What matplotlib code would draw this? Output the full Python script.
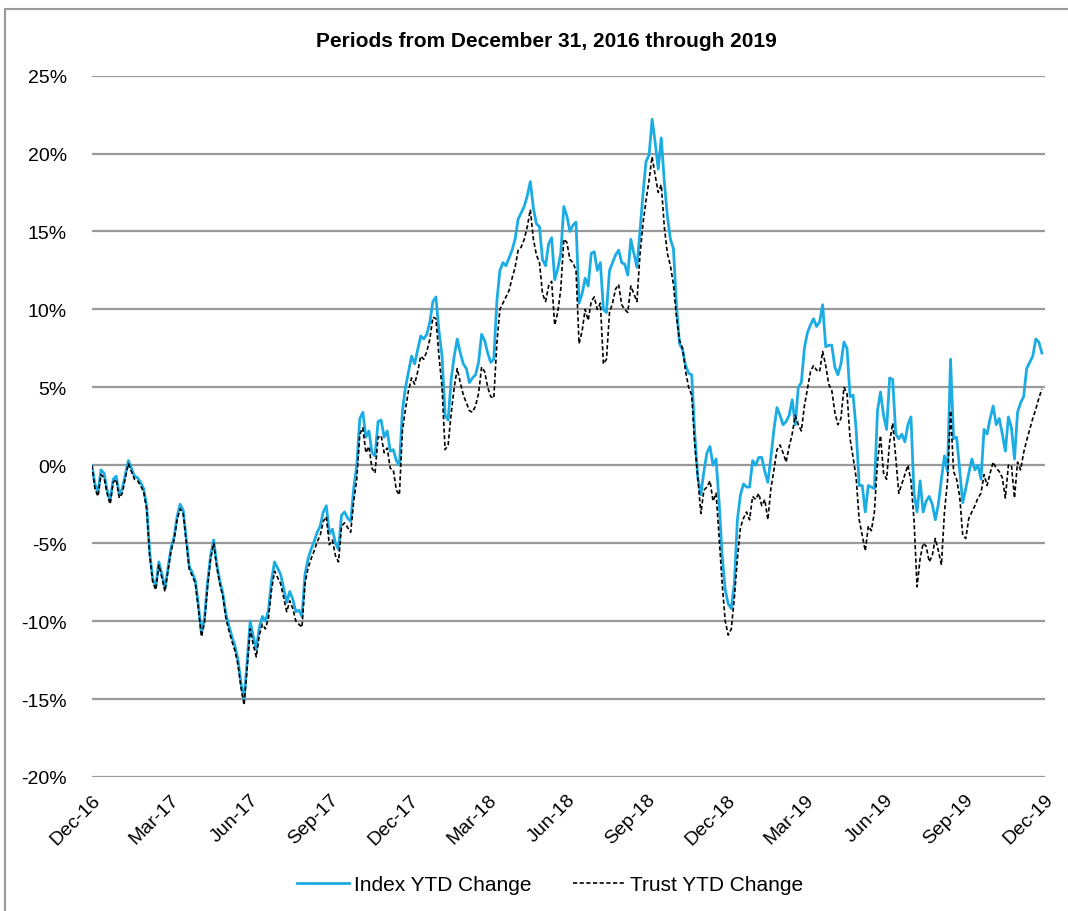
import matplotlib
matplotlib.use("Agg")
import matplotlib.pyplot as plt
import matplotlib.dates as mdates
from matplotlib.patches import Rectangle
import pandas as pd

plt.rcParams['font.family'] = ['Liberation Sans', 'DejaVu Sans']

# twice-weekly observations from Dec 31 2016 (YTD change, %)
dates = pd.date_range('2016-12-31', periods=313, freq='84h')

index_ytd = [
    0.0, -1.2, -1.8, -0.3, -0.5, -1.6, -2.3, -0.9, -0.7, -1.9,
    -1.5, -0.6, 0.3, -0.2, -0.7, -0.8, -1.1, -1.5, -2.6, -5.6,
    -7.3, -7.8, -6.2, -7.0, -7.9, -6.6, -5.3, -4.6, -3.3, -2.5,
    -2.9, -4.7, -6.5, -6.9, -7.4, -9.0, -10.8, -9.8, -7.5, -5.8,
    -4.8, -6.3, -7.4, -8.2, -9.5, -10.3, -11.0, -11.6, -12.5, -14.0,
    -15.0, -12.6, -10.0, -11.0, -11.8, -10.4, -9.7, -10.0, -9.3, -7.4,
    -6.2, -6.6, -7.0, -7.9, -8.8, -8.1, -8.6, -9.4, -9.3, -9.7,
    -7.0, -6.0, -5.4, -4.9, -4.3, -3.9, -3.0, -2.6, -4.4, -4.1,
    -5.0, -5.4, -3.2, -3.0, -3.4, -3.6, -1.5, 0.0, 3.0, 3.4,
    1.8, 2.2, 0.8, 0.6, 2.8, 2.9, 1.8, 2.2, 0.9, 1.0,
    0.3, 0.0, 3.5, 5.0, 6.0, 7.0, 6.5, 7.4, 8.3, 8.1,
    8.4, 9.2, 10.5, 10.8, 8.6, 7.0, 3.2, 2.9, 5.5, 7.0,
    8.1, 7.2, 6.5, 6.2, 5.3, 5.6, 5.8, 6.6, 8.4, 8.0,
    7.2, 6.6, 6.8, 10.5, 12.5, 13.0, 12.8, 13.3, 13.8, 14.5,
    15.8, 16.2, 16.6, 17.3, 18.2, 16.5, 15.5, 15.3, 13.2, 12.8,
    14.2, 14.6, 11.9, 12.6, 13.6, 16.6, 16.0, 15.0, 15.4, 15.6,
    10.4, 11.0, 12.0, 11.5, 13.6, 13.7, 12.5, 13.0, 10.0, 9.8,
    12.5, 13.0, 13.5, 13.8, 13.0, 12.9, 12.2, 14.5, 13.6, 12.7,
    15.0, 17.4, 19.5, 19.9, 22.2, 20.7, 19.0, 21.0, 18.2, 16.0,
    14.5, 13.9, 10.2, 7.8, 7.4, 6.4, 5.9, 5.8, 2.0, -0.8,
    -1.9, -0.4, 0.8, 1.2, 0.0, 0.4, -2.4, -5.8, -8.0, -8.9,
    -9.2, -7.6, -3.5, -1.9, -1.2, -1.4, -1.4, 0.3, 0.0, 0.5,
    0.5, -0.4, -1.1, 0.5, 2.3, 3.7, 3.2, 2.6, 2.8, 3.2,
    4.2, 2.6, 5.0, 5.3, 7.5, 8.5, 9.0, 9.4, 8.9, 9.2,
    10.3, 7.6, 7.7, 7.7, 6.3, 5.8, 6.5, 7.9, 7.5, 4.4,
    4.5, 2.3, -1.3, -1.3, -3.0, -1.3, -1.4, -1.5, 3.5, 4.7,
    3.2, 2.3, 5.6, 5.5, 2.0, 1.7, 2.0, 1.5, 2.6, 3.1,
    -1.8, -3.0, -1.0, -3.0, -2.3, -2.0, -2.5, -3.5, -2.5, -0.9,
    0.6, -0.4, 6.8, 1.7, 1.8, -0.3, -2.4, -1.5, -0.5, 0.4,
    -0.3, 0.0, -0.9, 2.3, 2.0, 3.0, 3.8, 2.6, 3.0, 2.0,
    0.9, 3.1, 2.4, 0.4, 3.4, 4.0, 4.4, 6.2, 6.6, 7.0,
    8.1, 7.9, 7.2,
]

trust_ytd = [
    0.0, -1.5, -2.0, -0.6, -0.8, -1.8, -2.5, -1.1, -0.9, -2.1,
    -1.8, -0.8, 0.1, -0.4, -0.9, -1.0, -1.3, -1.7, -2.8, -5.8,
    -7.5, -8.0, -6.4, -7.2, -8.1, -6.8, -5.5, -4.8, -3.5, -2.8,
    -3.1, -4.9, -6.7, -7.1, -7.6, -9.2, -11.0, -10.1, -7.8, -6.0,
    -5.0, -6.5, -7.6, -8.4, -9.8, -10.6, -11.3, -11.9, -12.8, -14.3,
    -15.4, -13.0, -10.5, -11.5, -12.3, -10.9, -10.2, -10.5, -9.8, -8.0,
    -6.8, -7.2, -7.6, -8.5, -9.4, -8.7, -9.2, -10.0, -10.2, -10.4,
    -7.6, -6.6, -6.0, -5.5, -4.9, -4.5, -3.6, -3.3, -5.1, -4.8,
    -5.8, -6.2, -3.9, -3.7, -4.0, -4.3, -2.3, -0.9, 2.0, 2.4,
    0.8, 1.2, -0.2, -0.5, 1.8, 1.9, 0.8, 1.1, -0.2, -0.3,
    -1.6, -1.9, 2.2, 3.6, 4.8, 5.6, 5.2, 6.0, 7.0, 6.8,
    7.3, 8.1, 9.5, 9.4, 7.0, 5.0, 1.0, 1.3, 3.3, 5.0,
    6.2, 5.3, 4.5, 4.0, 3.5, 3.4, 3.8, 4.6, 6.3, 6.0,
    5.0, 4.4, 4.3, 7.8, 10.0, 10.4, 10.8, 11.2, 12.0, 12.7,
    13.8, 14.0, 14.5, 15.3, 16.4, 14.5, 13.5, 13.0, 11.0, 10.5,
    11.5, 11.8, 9.0, 9.8, 11.3, 14.5, 14.3, 13.2, 13.0, 12.5,
    7.8, 8.6, 10.0, 9.3, 10.5, 10.8, 10.0, 10.4, 6.5, 6.8,
    9.8, 10.4, 11.3, 11.6, 10.3, 10.0, 9.8, 11.5, 11.0, 10.5,
    13.5, 15.5, 17.0, 18.3, 19.8, 18.6, 17.5, 18.0, 15.3, 13.6,
    12.8, 11.6, 9.5, 8.0, 7.5, 6.0, 5.0, 4.5, 1.3, -0.8,
    -3.1, -1.6, -1.4, -1.0, -2.3, -1.8, -4.6, -7.6, -10.0, -10.9,
    -10.5, -8.5, -6.0, -4.0, -3.4, -3.0, -3.5, -2.0, -2.2, -1.8,
    -2.6, -2.2, -3.5, -1.5, -0.3, 1.0, 1.3, 0.8, 0.2, 1.2,
    2.0, 3.2, 2.6, 2.2, 3.8, 4.9, 6.0, 6.4, 6.1, 6.0,
    7.3, 6.4, 5.2, 4.8, 3.4, 2.6, 3.0, 5.0, 4.6, 1.7,
    0.5, -0.8, -3.5, -4.5, -5.5, -3.9, -4.2, -3.0, 0.2, 1.9,
    -0.5, -0.9, 1.5, 2.7, 0.5, -1.8, -1.2, -0.6, 0.0, -1.0,
    -3.5, -7.8, -6.0, -5.0, -5.2, -6.2, -5.8, -4.7, -5.5, -6.4,
    -3.0, -1.0, 3.5, -0.4, -0.9, -2.0, -4.5, -4.7, -3.4, -3.0,
    -2.6, -2.1, -1.8, -0.6, -1.3, -0.5, 0.2, -0.2, -0.4, -0.8,
    -2.1, 0.0, 0.0, -2.1, 0.2, -0.3, 0.8, 1.6, 2.3, 3.0,
    3.6, 4.3, 4.9,
]

tick_dates = pd.date_range('2016-12-31', '2019-12-31', freq='QE')
y_ticks = list(range(-20, 30, 5))

fig = plt.figure(figsize=(10.68, 9.12), dpi=100)
ax = fig.add_axes([0.086, 0.147, 0.892, 0.769])

# chart frame, cut off at right and bottom like the source
fig.patches.append(Rectangle((5 / 1068, -0.05), 1.2, 1 - 10 / 912 + 0.05,
                             transform=fig.transFigure, fill=False,
                             edgecolor='#9a9a9a', linewidth=1.5))

ax.plot(dates, index_ytd, color='#1cace4', linewidth=2.0, label='Index YTD Change')
ax.plot(dates, trust_ytd, color='black', linewidth=1.2, linestyle=(0, (2.5, 1.5)),
        label='Trust YTD Change')

ax.set_ylim(-20, 25)
ax.set_yticks(y_ticks)
ax.set_yticklabels([f'{v}%' for v in y_ticks], fontsize=14)
ax.set_xlim(tick_dates[0], tick_dates[-1])
ax.set_xticks(tick_dates)
ax.xaxis.set_major_formatter(mdates.DateFormatter('%b-%y'))
plt.setp(ax.get_xticklabels(), rotation=45, ha='right', rotation_mode='anchor', fontsize=14)

ax.grid(axis='y', color='#999999', linewidth=1.6)
ax.set_axisbelow(True)
for s in ax.spines.values():
    s.set_visible(False)
ax.tick_params(axis='both', length=0)
ax.tick_params(axis='y', pad=18)
ax.tick_params(axis='x', pad=10)

fig.text(0.512, 0.955, 'Periods from December 31, 2016 through 2019',
         ha='center', va='center', fontsize=15, fontweight='bold')

fig.legend(loc='center', bbox_to_anchor=(0.515, 0.029), ncol=2, frameon=False,
           fontsize=15, handlelength=2.5, columnspacing=2.0, handletextpad=0.25)

fig.savefig('out.png', dpi=100)
